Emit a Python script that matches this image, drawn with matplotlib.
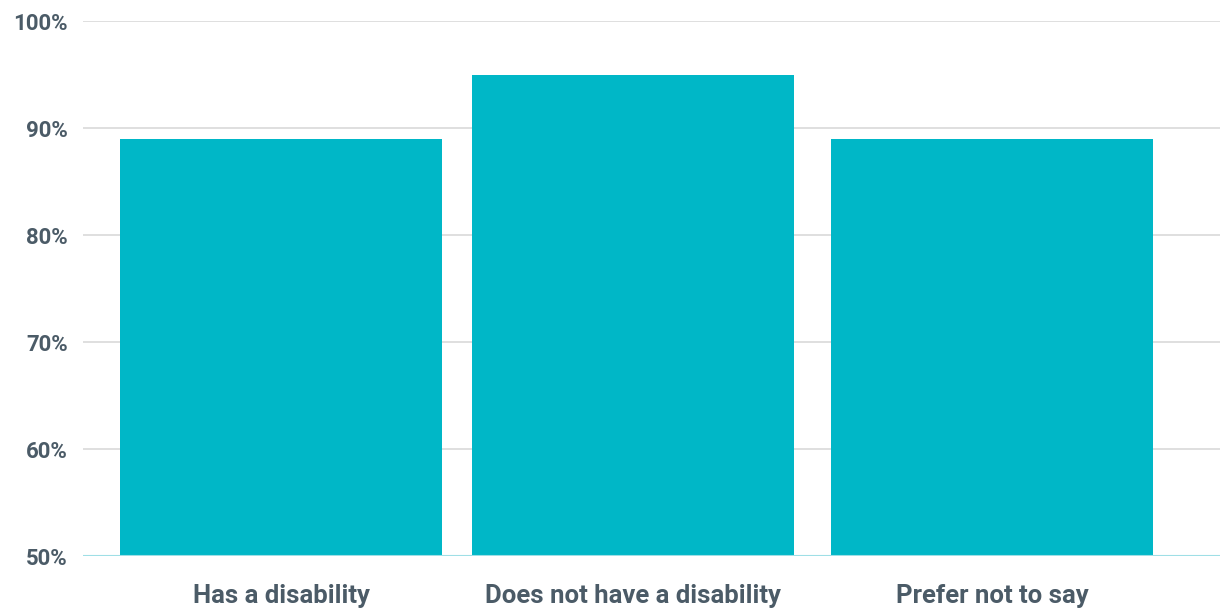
import matplotlib.pyplot as plt
from matplotlib.ticker import FuncFormatter

# data
categories = ["Has a disability", "Does not have a disability", "Prefer not to say"]
values = [89, 95, 89]
y_ticks = [50, 60, 70, 80, 90, 100]

BAR_COLOR = "#00b7c7"
TEXT_COLOR = "#4b5b67"
GRID_COLOR = "#d9d9d9"

plt.rcParams["font.family"] = ["Roboto", "DejaVu Sans"]

fig = plt.figure(figsize=(12.2, 6.1), dpi=100)
ax = fig.add_axes([0.068, 0.0885, 0.932, 0.877])

x = [0, 0.99, 2]
ax.bar(x, values, width=0.905, color=BAR_COLOR, zorder=2)

ax.set_ylim(50, 100)
ax.set_xlim(-0.557, 2.64)
ax.set_yticks(y_ticks)
ax.yaxis.set_major_formatter(FuncFormatter(lambda v, _: f"{v:.0f}%"))
ax.set_xticks(x)
ax.set_xticklabels(categories)

ax.grid(axis="y", color=GRID_COLOR, linewidth=1.2, zorder=1)
ax.axhline(50, color="#9fdfe6", linewidth=1.5, zorder=3)

for s in ax.spines.values():
    s.set_visible(False)

ax.tick_params(axis="y", length=0, pad=11, labelsize=16, labelcolor=TEXT_COLOR)
ax.tick_params(axis="x", length=0, pad=20, labelsize=18.5, labelcolor=TEXT_COLOR)
for lab in ax.get_yticklabels() + ax.get_xticklabels():
    lab.set_fontweight("bold")

fig.savefig("out.png", dpi=100, facecolor="white")
